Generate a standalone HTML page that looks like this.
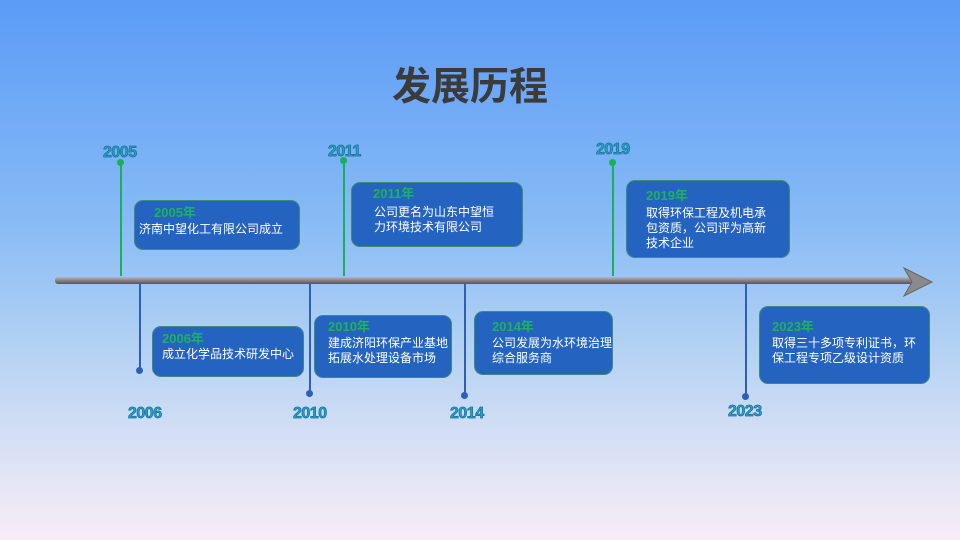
<!DOCTYPE html>
<html><head><meta charset="utf-8"><style>
body{margin:0;width:960px;height:540px;overflow:hidden;background:linear-gradient(180deg,#5b9bf7 0%,#86baf5 40%,#b4d2f3 65%,#e6e6f6 90%,#f6ecf6 100%);font-family:"Liberation Sans","Noto Sans CJK SC",sans-serif;position:relative}
.a{position:absolute}
.t{left:0;width:940px;top:56px;text-align:center;font-size:39px;font-weight:bold;color:#3b3b3b}
.box{position:absolute;background:#2563c1;border:1.5px solid #3d8a7a;border-radius:9px;box-sizing:border-box;color:#fff;font-size:12px;line-height:15px}
.box b{position:absolute;color:#1db35a;font-size:13px;font-weight:bold}
.box span{position:absolute}
.y{position:absolute;font-size:16px;font-weight:bold;color:#29a0c8;-webkit-text-stroke:0.7px #1a6f96;letter-spacing:-0.5px}
.g{position:absolute;width:2px;background:#18b058}
.bl{position:absolute;width:2px;background:#2e5fb5}
.dg{position:absolute;width:7px;height:7px;border-radius:50%;background:#18b058}
.db{position:absolute;width:7px;height:7px;border-radius:50%;background:#2e5fb5}
</style></head><body>
<div class="a t">发展历程</div>
<div class="a" style="left:55px;top:277px;width:860px;height:7px;background:linear-gradient(180deg,#b8b8b8,#7a7a7a 60%,#555);border-radius:3px"></div>
<svg class="a" style="left:900px;top:266px" width="34" height="32"><polygon points="4,2 32,16 4,30 12,16" fill="#8a8a8a" stroke="#666"/></svg>

<div class="g" style="left:120px;top:162px;height:114px"></div><div class="dg" style="left:117px;top:159px"></div>
<div class="g" style="left:343px;top:160px;height:116px"></div><div class="dg" style="left:340px;top:157px"></div>
<div class="g" style="left:612px;top:162px;height:114px"></div><div class="dg" style="left:609px;top:159px"></div>

<div class="bl" style="left:139px;top:284px;height:86px"></div><div class="db" style="left:136px;top:367px"></div>
<div class="bl" style="left:309px;top:284px;height:109px"></div><div class="db" style="left:306px;top:390px"></div>
<div class="bl" style="left:464px;top:284px;height:111px"></div><div class="db" style="left:461px;top:392px"></div>
<div class="bl" style="left:745px;top:284px;height:112px"></div><div class="db" style="left:742px;top:393px"></div>

<div class="y" style="left:103px;top:144px">2005</div>
<div class="y" style="left:328px;top:143px">2011</div>
<div class="y" style="left:596px;top:141px">2019</div>
<div class="y" style="left:128px;top:405px">2006</div>
<div class="y" style="left:293px;top:405px">2010</div>
<div class="y" style="left:450px;top:405px">2014</div>
<div class="y" style="left:728px;top:403px">2023</div>

<div class="box" style="left:134px;top:200px;width:166px;height:50px"><b style="left:19px;top:4px">2005年</b><span style="left:4px;top:21px">济南中望化工有限公司成立</span></div>
<div class="box" style="left:351px;top:182px;width:172px;height:65px"><b style="left:21px;top:3px">2011年</b><span style="left:22px;top:22px">公司更名为山东中望恒<br>力环境技术有限公司</span></div>
<div class="box" style="left:626px;top:180px;width:164px;height:78px"><b style="left:19px;top:7px">2019年</b><span style="left:19px;top:25px">取得环保工程及机电承<br>包资质，公司评为高新<br>技术企业</span></div>
<div class="box" style="left:152px;top:326px;width:152px;height:51px"><b style="left:9px;top:4px">2006年</b><span style="left:9px;top:20px">成立化学品技术研发中心</span></div>
<div class="box" style="left:314px;top:315px;width:138px;height:63px"><b style="left:13px;top:3px">2010年</b><span style="left:13px;top:20px">建成济阳环保产业基地<br>拓展水处理设备市场</span></div>
<div class="box" style="left:474px;top:311px;width:139px;height:64px"><b style="left:17px;top:7px">2014年</b><span style="left:17px;top:24px">公司发展为水环境治理<br>综合服务商</span></div>
<div class="box" style="left:759px;top:306px;width:171px;height:78px"><b style="left:12px;top:12px">2023年</b><span style="left:12px;top:29px">取得三十多项专利证书，环<br>保工程专项乙级设计资质</span></div>
</body></html>
